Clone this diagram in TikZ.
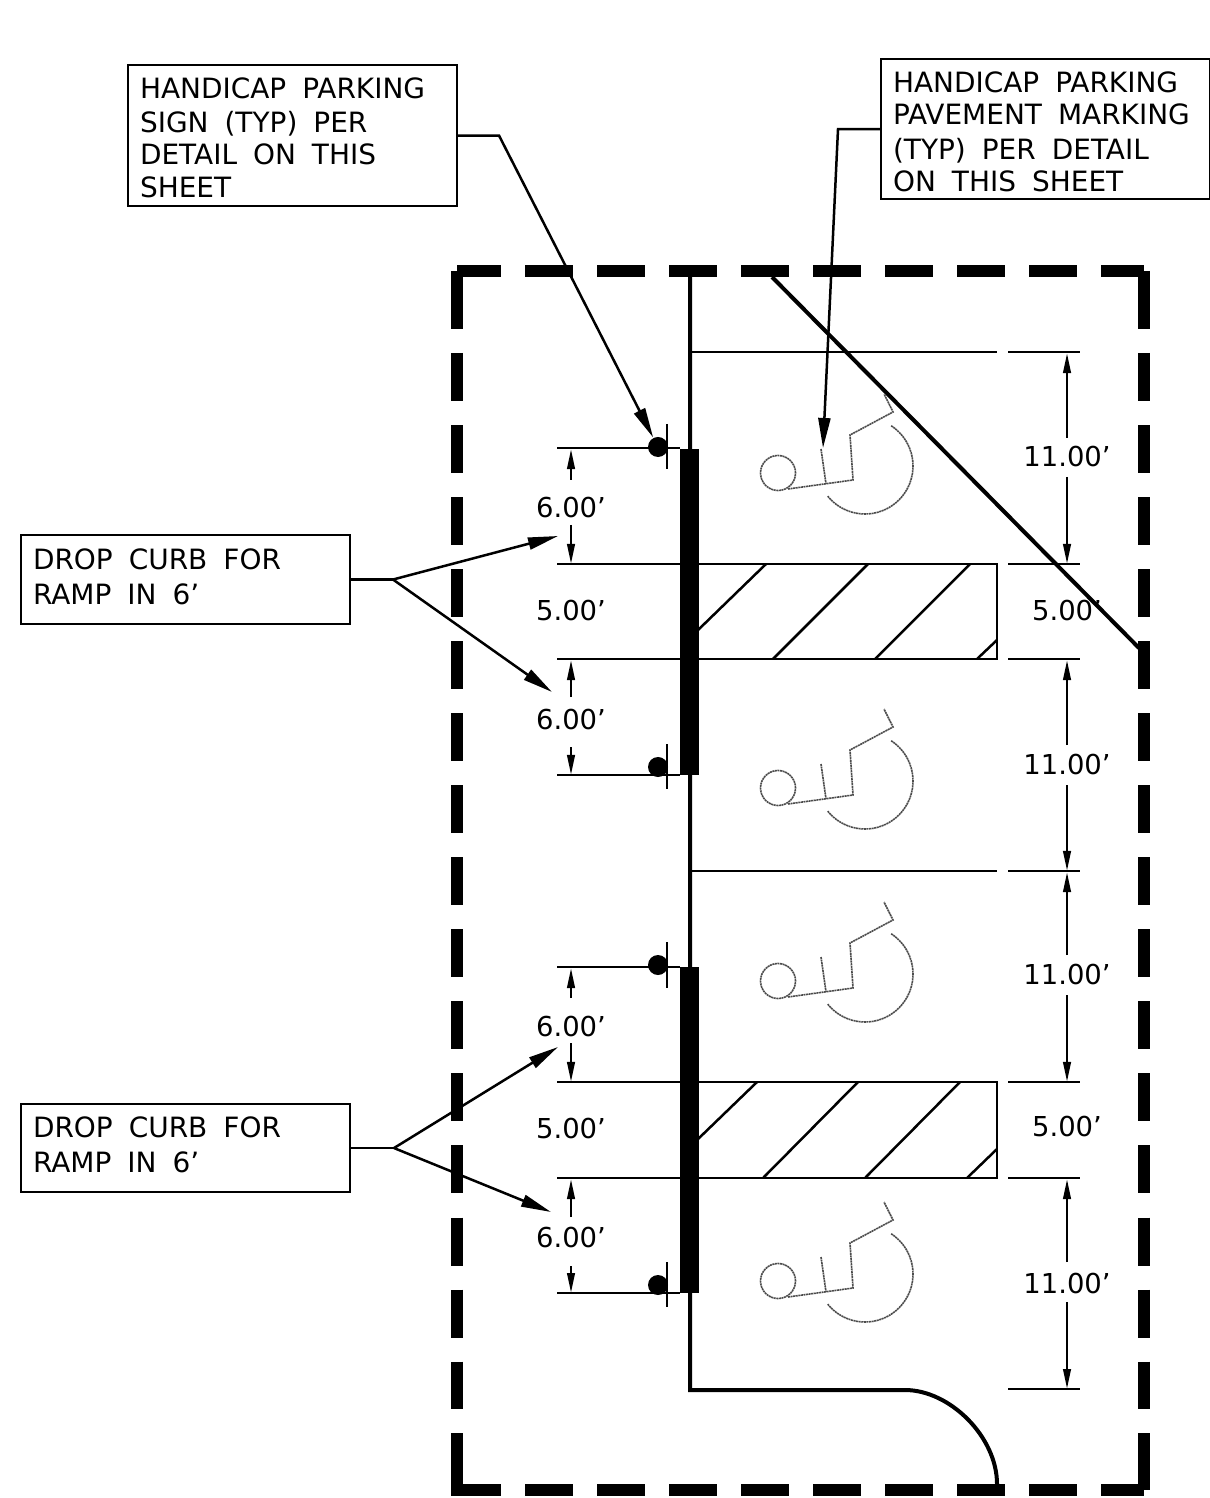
\documentclass[tikz,border=0pt]{standalone}
\usepackage{fontspec}
\setmainfont{DejaVu Sans}
\usepackage{tikz}
\usetikzlibrary{arrows.meta}
\tikzset{
	boundary/.style={line width=0.12cm},
	boundarydash/.style={boundary,dash pattern=on 0.48cm off 0.24cm},
	curbline/.style={line width=0.04cm},
	thinline/.style={line width=0.025cm},
	leader/.style={line width=0.025cm,-{Triangle[length=0.3cm,width=0.12cm]}},
	dimarrow/.style={line width=0.025cm,-{Triangle[length=0.2cm,width=0.075cm]}},
	notebox/.style={
			draw,line width=0.025cm,anchor=north west,inner xsep=0.12cm,inner ysep=0pt,outer sep=0pt,
			text width=3.05cm,text height=0.1cm,
			align=left,font=\fontsize{7.95}{9.1}\selectfont,
			execute at begin node={\spaceskip=0.16cm\relax}
		},
	dimlabel/.style={inner sep=0pt,font=\fontsize{7.8}{9}\selectfont},
	signdot/.style={circle,fill,inner sep=0pt,minimum size=0.2cm},
	symbolline/.style={line width=0.016cm,black!70,dash pattern=on 0.02cm off 0.006cm}
}

\begin{document}
\begin{tikzpicture}[x=0.01cm,y=-0.01cm]
	\useasboundingbox (0,0) rectangle (1210,1498);
	% Dashed boundary
	\draw[boundarydash,dash phase=0.04cm] (457,271) -- (1144,271);
	\draw[boundarydash,dash phase=0.04cm] (457,1490) -- (1144,1490);
	\draw[boundary] (457,271) -- (457,329);
	\draw[boundary] (1144,271) -- (1144,329);
	\draw[boundarydash] (457,353) -- (457,1409);
	\draw[boundarydash] (1144,353) -- (1144,1409);
	\draw[boundary] (457,1433) -- (457,1496);
	\draw[boundary] (1144,1433) -- (1144,1490);
	% Curb line and drive
	\draw[curbline] (690,277) -- (690,1390) -- (905,1390) .. controls (950,1390) and (997,1437) .. (997,1484);
	\draw[curbline] (772,277) -- (1139,648);
	% Drop curbs
	\fill (680,449) rectangle (699,775);
	\fill (680,967) rectangle (699,1293);
	% Stalls and hatching
	\draw[thinline] (690,352) -- (997,352);
	\draw[thinline] (690,871) -- (997,871);
	\draw[thinline] (697,564) rectangle (997,659);
	\draw[thinline] (697,1082) rectangle (997,1178);
	\draw[thinline] (766,564) -- (697,631);
	\draw[thinline] (868,564) -- (773,659);
	\draw[thinline] (970,564) -- (875,659);
	\draw[thinline] (997,640) -- (977,659);
	\draw[thinline] (757,1082) -- (697,1140);
	\draw[thinline] (858,1082) -- (763,1178);
	\draw[thinline] (960,1082) -- (865,1178);
	\draw[thinline] (997,1149) -- (967,1178);
	% Extension lines
	\foreach \y in {448,564,659,775,967,1082,1178,1293}
		\draw[thinline] (557,\y) -- (680,\y);
	\foreach \y in {352,564,659,871,1082,1178,1389}
		\draw[thinline] (1008,\y) -- (1080,\y);
	% Sign posts
	\node[signdot] (postA) at (658,447) {};
	\node[signdot] (postB) at (658,767) {};
	\node[signdot] (postC) at (658,965) {};
	\node[signdot] (postD) at (658,1285) {};
	\draw[thinline] (667,424) -- (667,469);
	\draw[thinline] (667,744) -- (667,789);
	\draw[thinline] (667,942) -- (667,988);
	\draw[thinline] (667,1262) -- (667,1307);
	% Wheelchair symbols
	\foreach \dy in {0,315,508,808} {
			\begin{scope}[shift={(0,\dy)}]
				\draw[symbolline] (778,473) circle (0.175cm);
				\draw[symbolline] (788,489) -- (853,480) -- (850,435) -- (893,412) -- (884,394);
				\draw[symbolline] (821,449) -- (826,484);
				\draw[symbolline,domain=-57:141,samples=40] plot ({865+48*cos(\x)},{466+48*sin(\x)});
			\end{scope}
		}
	% Dimensions
	\foreach \nm/\lx/\ly/\txt/\ya/\yb/\yc/\yd in {
			dimA/571/508/6.00/480/449/525/564,
			dimB/571/720/6.00/697/660/747/775,
			dimC/571/1027/6.00/998/968/1043/1082,
			dimD/571/1238/6.00/1217/1179/1266/1293,
			dimE/1067/457/11.00/438/353/477/564,
			dimF/1067/765/11.00/745/660/785/871,
			dimG/1067/975/11.00/955/872/995/1082,
			dimH/1067/1283/11.00/1262/1179/1302/1389} {
			\node[dimlabel] (\nm) at (\lx,\ly) {\txt’};
			\coordinate (\nm-a) at (\lx,\ya);
			\coordinate (\nm-b) at (\lx,\yb);
			\coordinate (\nm-c) at (\lx,\yc);
			\coordinate (\nm-d) at (\lx,\yd);
			\draw[dimarrow] (\nm-a) -- (\nm-b);
			\draw[dimarrow] (\nm-c) -- (\nm-d);
		}
	\node[dimlabel] (widthA) at (571,611) {5.00’};
	\node[dimlabel] (widthB) at (571,1129) {5.00’};
	\node[dimlabel] (widthC) at (1067,611) {5.00’};
	\node[dimlabel] (widthD) at (1067,1127) {5.00’};
	% Notes
	\node[notebox,text depth=0.85cm,minimum height=1.41cm] (signbox) at (128,65) {HANDICAP PARKING\\[0.85pt]SIGN (TYP) PER\\DETAIL ON THIS\\SHEET};
	\node[notebox,text depth=0.84cm,minimum height=1.40cm] (markbox) at (881,59) {HANDICAP PARKING\\PAVEMENT MARKING\\[1.1pt](TYP) PER DETAIL\\ON THIS SHEET};
	\node[notebox,text depth=0.31cm,minimum height=0.89cm] (curbboxA) at (21,535) {DROP CURB FOR\\[0.85pt]RAMP IN 6’};
	\node[notebox,text depth=0.32cm,minimum height=0.88cm] (curbboxB) at (21,1104) {DROP CURB FOR\\[0.85pt]RAMP IN 6’};
	% Leaders
	\coordinate (signbend) at (499,0 |- signbox.east);
	\coordinate (markbend) at (838,0 |- markbox.west);
	\coordinate (marktip) at (823,448);
	\coordinate (curbsplitA) at (393,0 |- curbboxA.east);
	\coordinate (curbsplitB) at (394,0 |- curbboxB.east);
	\coordinate (curbtipA) at (558,536);
	\coordinate (curbtipB) at (552,692);
	\coordinate (curbtipC) at (558,1047);
	\coordinate (curbtipD) at (551,1212);
	\draw[leader] (signbox.east) -- (signbend) -- (postA);
	\draw[leader] (markbox.west) -- (markbend) -- (marktip);
	\draw[thinline] (curbboxA.east) -- (curbsplitA);
	\draw[leader] (curbsplitA) -- (curbtipA);
	\draw[leader] (curbsplitA) -- (curbtipB);
	\draw[thinline] (curbboxB.east) -- (curbsplitB);
	\draw[leader] (curbsplitB) -- (curbtipC);
	\draw[leader] (curbsplitB) -- (curbtipD);
\end{tikzpicture}
\end{document}
